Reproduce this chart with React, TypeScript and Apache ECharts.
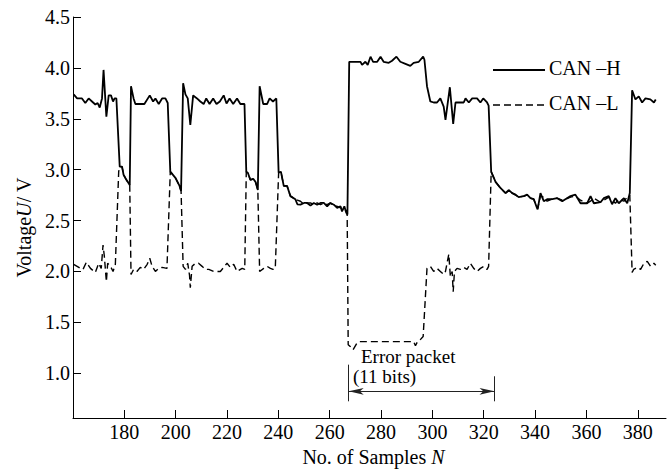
import React, { useEffect, useRef } from "react";
import * as echarts from "echarts";

const FONT = '"Liberation Serif", "Times New Roman", serif';

const xTicks = [180, 200, 220, 240, 260, 280, 300, 320, 340, 360, 380];
const yTicks = [1.0, 1.5, 2.0, 2.5, 3.0, 3.5, 4.0, 4.5];

// CAN-H: [sample N, voltage]
const canH: [number, number][] = [
  [160.25, 3.74], [161.6, 3.7], [163.5, 3.7], [164.8, 3.655], [166.1, 3.7], [167.4, 3.67], [168.7, 3.64],
  [169.6, 3.655], [170.4, 3.61], [171.3, 3.7], [171.9, 3.98], [173.0, 3.52], [173.9, 3.73], [174.8, 3.73],
  [175.6, 3.67], [176.2, 3.7], [176.9, 3.7], [178.2, 3.03], [179.1, 3.03], [179.7, 2.95], [180.8, 2.9],
  [182.1, 2.85], [182.6, 3.82], [183.6, 3.7], [184.3, 3.645], [187.8, 3.645], [189.9, 3.73], [191.2, 3.67],
  [192.1, 3.7], [193.4, 3.645], [194.7, 3.7], [196.0, 3.7], [196.9, 3.655], [197.9, 2.98], [199.9, 2.92],
  [201.5, 2.84], [202.1, 2.79], [202.9, 3.85], [203.8, 3.74], [204.7, 3.7], [205.7, 3.44], [206.8, 3.73],
  [208.3, 3.7], [209.6, 3.67], [210.9, 3.645], [211.9, 3.7], [213.2, 3.645], [214.6, 3.7], [215.9, 3.645],
  [217.2, 3.67], [218.7, 3.73], [219.8, 3.65], [221.0, 3.7], [222.4, 3.645], [223.9, 3.7], [225.2, 3.645],
  [226.8, 3.645], [227.5, 2.98], [228.1, 2.97], [229.1, 2.9], [230.2, 2.91], [231.1, 2.88], [232.0, 2.8],
  [232.7, 3.82], [234.1, 3.645], [235.6, 3.645], [236.6, 3.7], [237.9, 3.67], [239.2, 3.7], [240.1, 2.97],
  [241.0, 2.98], [242.1, 2.84], [243.4, 2.84], [244.7, 2.74], [246.6, 2.71], [247.4, 2.66], [248.6, 2.656],
  [250.0, 2.673], [251.2, 2.673], [252.5, 2.647], [253.8, 2.673], [255.1, 2.656], [256.4, 2.673],
  [257.7, 2.673], [259.0, 2.64], [260.3, 2.673], [261.6, 2.656], [262.9, 2.624], [264.2, 2.64],
  [264.8, 2.59], [265.7, 2.64], [266.4, 2.58], [266.9, 2.56], [267.6, 4.06], [272.0, 4.06], [272.6, 4.03],
  [273.9, 4.06], [274.8, 4.03], [275.9, 4.11], [276.9, 4.06], [278.5, 4.06], [279.8, 4.11], [281.0, 4.06],
  [283.0, 4.05], [284.3, 4.07], [286.0, 4.11], [287.5, 4.06], [289.5, 4.04], [291.4, 4.02], [292.7, 4.05],
  [294.7, 4.06], [296.4, 4.11], [296.9, 4.08], [297.9, 3.82], [299.2, 3.67], [300.5, 3.66], [301.8, 3.66],
  [303.1, 3.7], [304.4, 3.62], [305.1, 3.49], [306.8, 3.81], [308.1, 3.45], [309.0, 3.66], [312.2, 3.66],
  [312.9, 3.7], [314.2, 3.66], [315.5, 3.7], [317.4, 3.7], [318.7, 3.66], [319.8, 3.7], [321.3, 3.66],
  [321.9, 3.63], [322.9, 2.98], [324.6, 2.88], [326.5, 2.82], [328.5, 2.77], [329.7, 2.8], [331.1, 2.77],
  [332.4, 2.755], [333.6, 2.73], [335.6, 2.74], [336.9, 2.755], [338.2, 2.72], [339.5, 2.71], [340.5, 2.64],
  [341.0, 2.61], [342.1, 2.77], [343.4, 2.69], [344.7, 2.71], [346.7, 2.71], [348.6, 2.72], [350.6, 2.69],
  [351.8, 2.71], [353.8, 2.74], [355.7, 2.755], [357.7, 2.67], [360.3, 2.67], [361.6, 2.74], [362.9, 2.67],
  [365.5, 2.68], [366.8, 2.72], [368.7, 2.74], [370.0, 2.66], [371.3, 2.72], [372.6, 2.67], [374.6, 2.72],
  [375.9, 2.67], [376.9, 2.77], [377.8, 3.78], [379.1, 3.69], [380.4, 3.72], [381.7, 3.66], [383.0, 3.7],
  [384.9, 3.69], [386.3, 3.66], [387.0, 3.69],
];

// CAN-L: [sample N, voltage]
const canL: [number, number][] = [
  [160.25, 2.07], [161.6, 2.05], [162.9, 2.03], [163.9, 2.02], [165.2, 2.09], [166.8, 2.03], [168.7, 1.99],
  [170.0, 2.08], [171.0, 2.03], [171.7, 2.26], [172.2, 2.15], [173.0, 1.9], [173.5, 2.08], [174.6, 2.05],
  [175.6, 2.0], [176.5, 2.07], [177.8, 2.98], [178.2, 3.03], [179.1, 3.03], [179.7, 2.95], [180.8, 2.9],
  [182.1, 2.85], [182.6, 1.97], [183.6, 2.02], [184.9, 2.0], [186.2, 2.04], [187.5, 2.02], [188.9, 2.07],
  [189.9, 2.13], [190.8, 2.05], [192.1, 2.0], [193.4, 2.03], [194.7, 2.04], [196.6, 2.03], [197.9, 2.98],
  [199.9, 2.92], [201.5, 2.84], [202.1, 2.79], [202.9, 2.05], [203.8, 2.02], [204.7, 2.08], [205.4, 1.96],
  [205.7, 1.84], [206.4, 2.05], [207.7, 2.08], [208.9, 2.08], [210.3, 2.05], [211.6, 2.02], [212.9, 2.02],
  [214.8, 2.0], [217.4, 2.0], [219.0, 2.05], [220.0, 2.08], [221.3, 2.04], [222.6, 2.07], [223.9, 2.0],
  [225.9, 2.03], [226.9, 2.02], [227.5, 2.98], [228.1, 2.97], [229.1, 2.9], [230.2, 2.91], [231.1, 2.88],
  [232.0, 2.8], [232.7, 2.0], [234.3, 2.03], [235.6, 2.05], [236.9, 2.03], [237.9, 2.02], [238.8, 2.03],
  [240.1, 2.97], [241.0, 2.98], [242.1, 2.84], [243.4, 2.84], [244.7, 2.74], [246.6, 2.71], [247.4, 2.7],
  [248.6, 2.69], [250.0, 2.66], [251.2, 2.673], [252.5, 2.673], [253.8, 2.656], [255.1, 2.673],
  [256.4, 2.656], [257.7, 2.673], [259.0, 2.656], [260.3, 2.673], [261.6, 2.64], [262.9, 2.64],
  [264.2, 2.624], [264.8, 2.62], [265.7, 2.6], [266.4, 2.6], [266.8, 2.58], [267.2, 1.28], [268.1, 1.26],
  [269.1, 1.23], [270.7, 1.3], [271.5, 1.31], [292.7, 1.31], [293.4, 1.27], [294.2, 1.31], [295.3, 1.33],
  [296.4, 1.36], [297.9, 2.03], [299.2, 2.05], [300.5, 2.0], [301.8, 2.03], [303.1, 2.0], [304.4, 1.97],
  [305.1, 2.0], [305.7, 2.08], [306.4, 2.17], [307.0, 1.95], [307.7, 2.0], [308.1, 1.8], [308.6, 2.0],
  [309.6, 2.03], [310.9, 2.02], [312.2, 2.04], [313.5, 2.02], [314.8, 2.08], [316.1, 2.03], [317.4, 2.0],
  [318.7, 2.03], [320.0, 2.05], [321.3, 2.02], [321.9, 2.05], [322.9, 2.98], [324.6, 2.88], [326.5, 2.82],
  [328.5, 2.77], [329.7, 2.79], [331.1, 2.77], [332.4, 2.75], [333.6, 2.73], [335.6, 2.74], [336.9, 2.75],
  [338.2, 2.72], [339.5, 2.71], [340.5, 2.64], [341.0, 2.62], [342.1, 2.74], [343.4, 2.73], [344.7, 2.69],
  [346.7, 2.71], [348.6, 2.72], [350.6, 2.7], [351.8, 2.71], [353.8, 2.73], [355.7, 2.74], [357.7, 2.7],
  [360.3, 2.67], [361.6, 2.69], [362.9, 2.72], [365.5, 2.68], [366.8, 2.7], [368.7, 2.73], [370.0, 2.7],
  [371.3, 2.67], [372.6, 2.71], [374.6, 2.69], [375.9, 2.73], [376.9, 2.75], [377.8, 1.99], [378.4, 2.02],
  [379.8, 2.04], [381.1, 2.02], [382.4, 2.08], [383.7, 2.1], [385.0, 2.05], [386.3, 2.08], [387.0, 2.06],
];

// Error packet annotation (data units)
const errStartN = 267.4;
const errEndN = 324.2;
const arrowV = 0.822;
const leftBarTop = 1.084;
const rightBarTop = 0.97;
const barBottom = 0.724;

const seriesNames = ["CAN –H", "CAN –L"];

export default function App() {
  const ref = useRef<HTMLDivElement>(null);
  useEffect(() => {
    const chart = echarts.init(ref.current as HTMLDivElement, null, { renderer: "svg" });
    const txt = { color: "#000", fontFamily: FONT, fontSize: 20 };
    chart.setOption({
      animation: false,
      backgroundColor: "#fff",
      grid: { left: 73, right: 1, top: 17, bottom: 51, containLabel: false, outerBoundsMode: "none" },
      xAxis: {
        type: "value",
        min: 160,
        max: 391,
        splitLine: { show: false },
        axisLine: { show: true, lineStyle: { color: "#000", width: 1 } },
        axisTick: { show: true, inside: true, length: 8, customValues: xTicks, lineStyle: { color: "#000" } },
        axisLabel: { ...txt, margin: 4, customValues: xTicks, formatter: (v: number) => String(v) },
        name: "No. of Samples {i|N}",
        nameLocation: "middle",
        nameGap: 25,
        nameTextStyle: { ...txt, padding: [0, 0, 0, 8], rich: { i: { ...txt, fontStyle: "italic" } } },
      },
      yAxis: {
        type: "value",
        min: 0.56,
        max: 4.5,
        splitLine: { show: false },
        axisLine: { show: true, lineStyle: { color: "#000", width: 1 } },
        axisTick: { show: true, inside: true, length: 8, customValues: yTicks, lineStyle: { color: "#000" } },
        axisLabel: { ...txt, margin: 3, customValues: yTicks, formatter: (v: number) => v.toFixed(1) },
        name: "Voltage{i|U}/ V",
        nameLocation: "middle",
        nameRotate: 90,
        nameGap: 37,
        nameTextStyle: { ...txt, padding: [0, 20, 0, 0], rich: { i: { ...txt, fontStyle: "italic" } } },
      },
      series: [
        {
          name: seriesNames[1],
          type: "line",
          data: canL,
          showSymbol: false,
          symbol: "none",
          silent: true,
          lineStyle: { color: "#000", width: 1.4, type: [7, 4] },
          emphasis: { disabled: true },
          z: 2,
        },
        {
          name: seriesNames[0],
          type: "line",
          data: canH,
          showSymbol: false,
          symbol: "none",
          silent: true,
          lineStyle: { color: "#000", width: 1.8 },
          emphasis: { disabled: true },
          z: 3,
          markLine: {
            silent: true,
            symbol: ["none", "none"],
            label: { show: false },
            lineStyle: { color: "#222", width: 1, type: "solid" },
            emphasis: { disabled: true },
            data: [
              [
                { coord: [errStartN, arrowV], symbol: "arrow", symbolSize: [5, 15] },
                { coord: [errEndN, arrowV], symbol: "arrow", symbolSize: [5, 15] },
              ],
              [{ coord: [errStartN, leftBarTop] }, { coord: [errStartN, barBottom] }],
              [{ coord: [errEndN, rightBarTop] }, { coord: [errEndN, barBottom] }],
            ],
          },
        },
      ],
      graphic: [
        { type: "line", shape: { x1: 493, y1: 70, x2: 545, y2: 70 }, style: { stroke: "#000", lineWidth: 1.8 } },
        { type: "line", shape: { x1: 493, y1: 105, x2: 545, y2: 105 }, style: { stroke: "#000", lineWidth: 1.4, lineDash: [7, 4] } },
        { type: "text", x: 549, y: 68, style: { text: seriesNames[0], fill: "#000", font: `20px ${FONT}`, verticalAlign: "middle" } },
        { type: "text", x: 549, y: 103, style: { text: seriesNames[1], fill: "#000", font: `20px ${FONT}`, verticalAlign: "middle" } },
        { type: "text", x: 361, y: 356, style: { text: "Error packet", fill: "#000", font: `19px ${FONT}`, verticalAlign: "middle" } },
        { type: "text", x: 353, y: 376, style: { text: "(11 bits)", fill: "#000", font: `19px ${FONT}`, verticalAlign: "middle" } },
      ],
    });
    return () => chart.dispose();
  }, []);
  return (
    <div
      ref={ref}
      style={{ position: "absolute", left: 0, top: 0, width: 667, height: 469, background: "#fff" }}
    />
  );
}
